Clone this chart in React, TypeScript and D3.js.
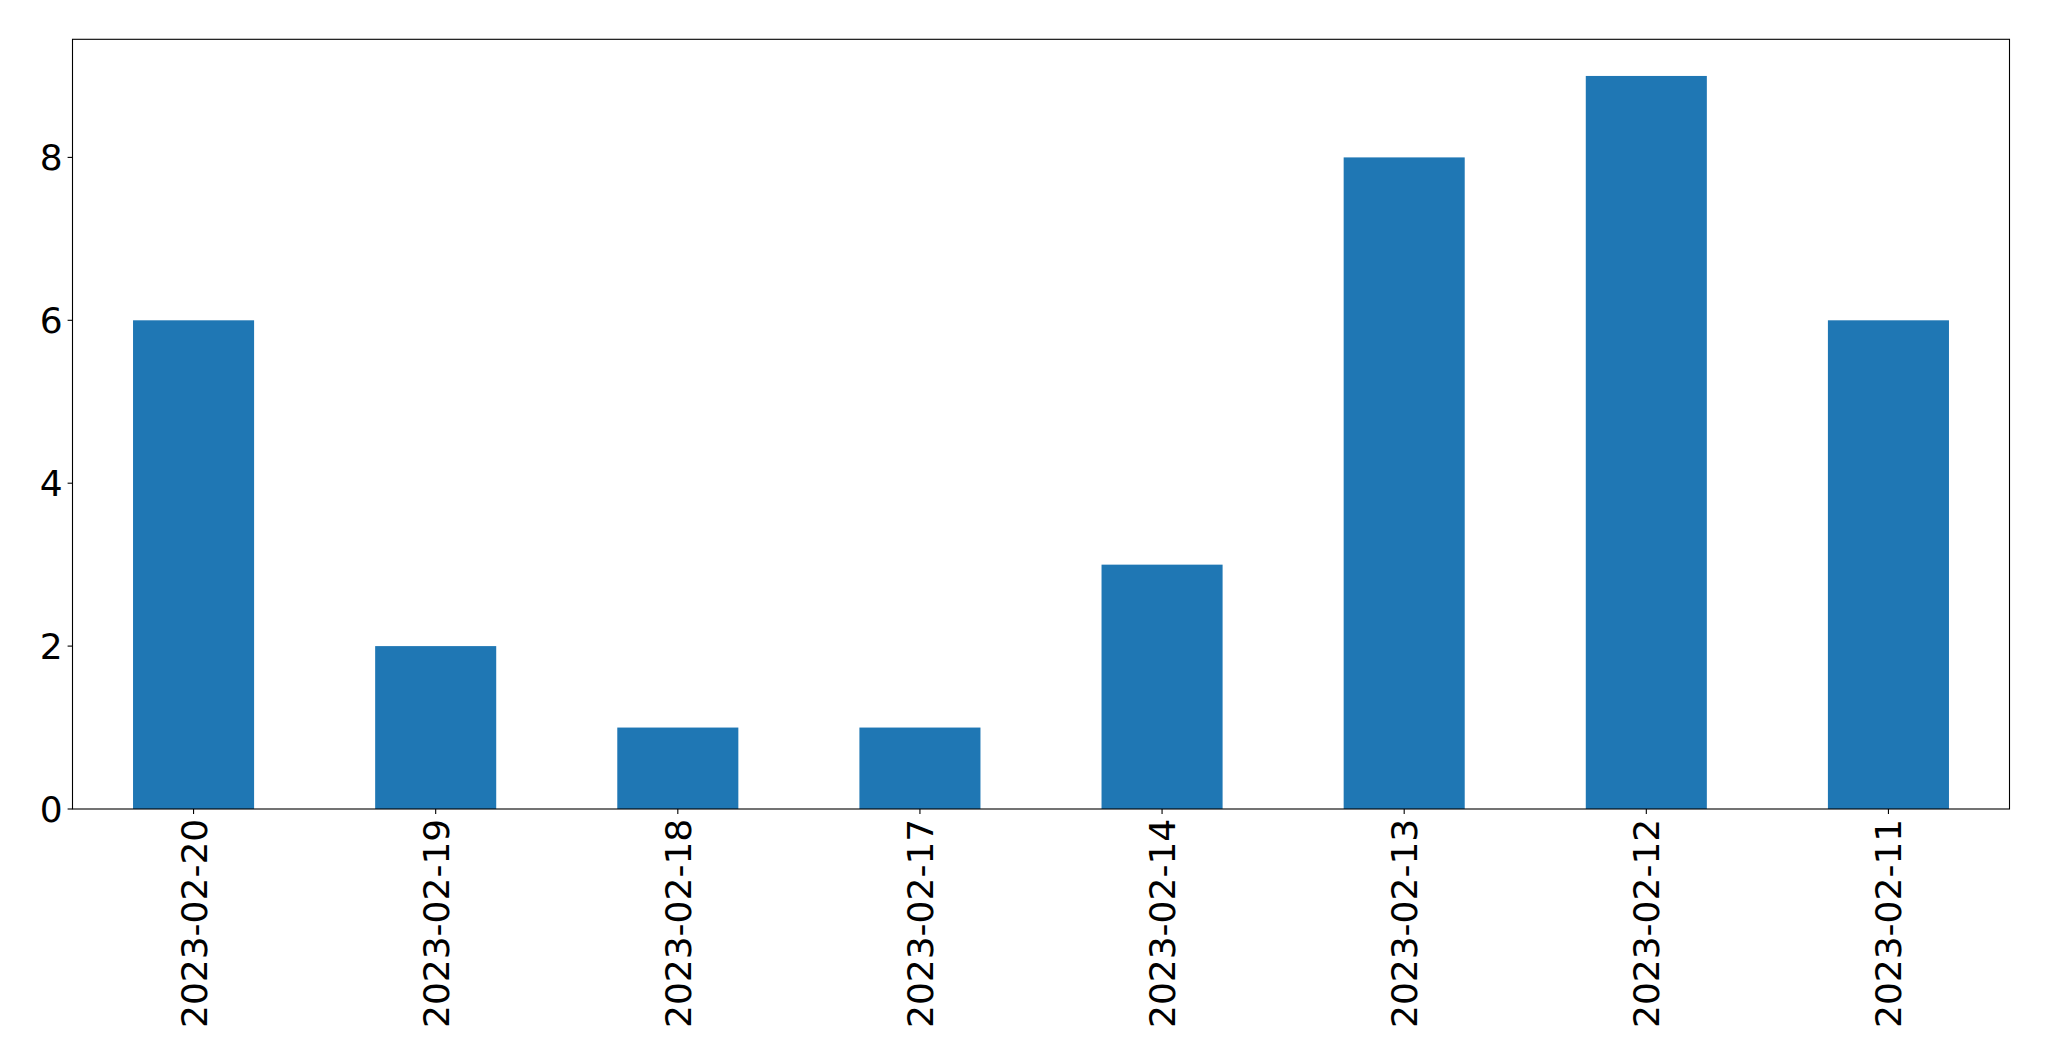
import React from "react";
import * as d3 from "d3";

const categories = ["2023-02-20", "2023-02-19", "2023-02-18", "2023-02-17", "2023-02-14", "2023-02-13", "2023-02-12", "2023-02-11"];
const values = [6, 2, 1, 1, 3, 8, 9, 6];
const yTicks = [0, 2, 4, 6, 8];

export default function App() {
  const W = 2049, H = 1061;
  const left = 72.5, right = 2009.5, top = 39.3, bottom = 809;
  const x = d3.scaleBand<string>().domain(categories).range([left, right]).paddingInner(0.5).paddingOuter(0.25);
  const y = d3.scaleLinear().domain([0, d3.max(values)! * 1.05]).range([bottom, top]);
  const font = "DejaVu Sans";
  const fs = 36;
  const tickLen = 4.9;
  const pad = 4.9;
  return (
    <svg width={W} height={H} style={{ position: "absolute", left: 0, top: 0, background: "#fff" }}>
      <rect x={0} y={0} width={W} height={H} fill="#fff" />
      {categories.map((c, i) => (
        <rect key={c} x={x(c)!} y={y(values[i])} width={x.bandwidth()} height={bottom - y(values[i])} fill="#1f77b4" />
      ))}
      <rect x={left} y={top} width={right - left} height={bottom - top} fill="none" stroke="#000" strokeWidth={1.1} />
      {yTicks.map((t) => (
        <g key={t}>
          <line x1={left - tickLen} x2={left} y1={y(t)} y2={y(t)} stroke="#000" strokeWidth={1.1} />
          <text x={left - tickLen - pad} y={y(t)} dy="0.36em" textAnchor="end" fontFamily={font} fontSize={fs} fill="#000">{t}</text>
        </g>
      ))}
      {categories.map((c) => {
        const cx = x(c)! + x.bandwidth() / 2;
        const ty = bottom + tickLen + pad;
        return (
          <g key={c}>
            <line x1={cx} x2={cx} y1={bottom} y2={bottom + tickLen} stroke="#000" strokeWidth={1.1} />
            <text transform={`translate(${cx},${ty}) rotate(-90)`} dy="0.36em" textAnchor="end" fontFamily={font} fontSize={fs} fill="#000">{c}</text>
          </g>
        );
      })}
    </svg>
  );
}
